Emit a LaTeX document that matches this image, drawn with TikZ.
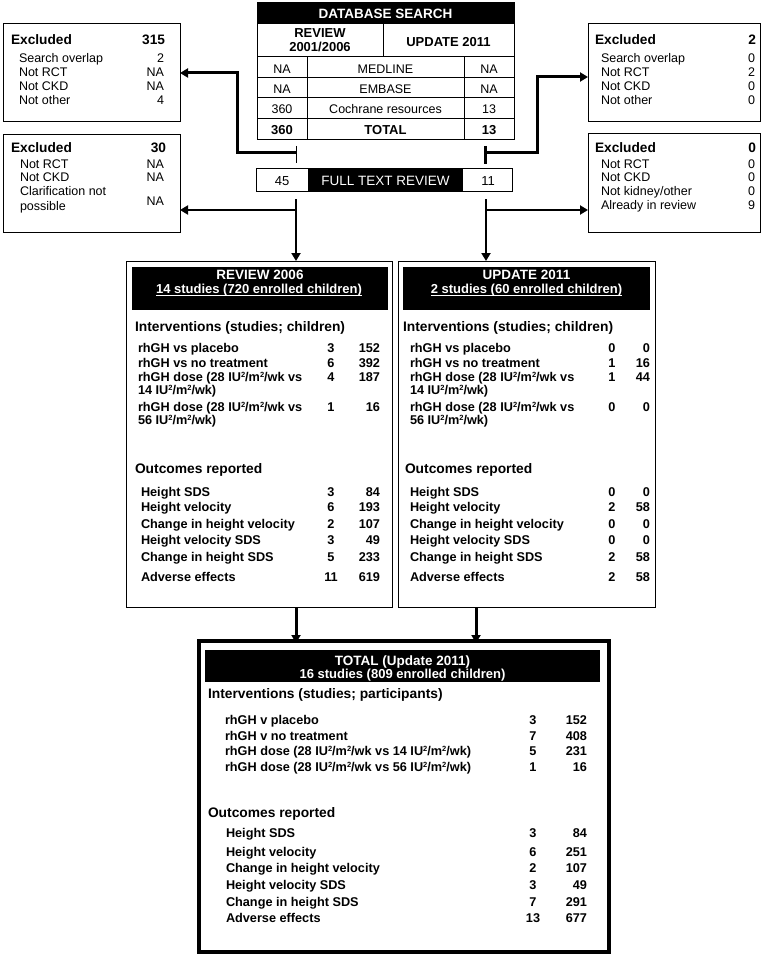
\documentclass[tikz,border=0pt]{standalone}
\usepackage{fontspec}
\setmainfont{Liberation Sans}
\usetikzlibrary{arrows.meta}
\newcommand\fex{\fontsize{13.7}{15}\selectfont\bfseries}
\newcommand\fsm{\fontsize{12.5}{14}\selectfont}
\newcommand\ftb{\fontsize{12.5}{14}\selectfont}
\newcommand\ftbb{\fontsize{13}{14}\selectfont\bfseries}
\newcommand\fhd{\fontsize{13.5}{15}\selectfont\bfseries}
\newcommand\fhdb{\fontsize{13}{15}\selectfont\bfseries}
\newcommand\fsec{\fontsize{13.8}{15}\selectfont\bfseries}
\newcommand\frow{\fontsize{12.7}{14}\selectfont\bfseries}
\newcommand\tsq{\raisebox{3.6pt}{\fontsize{7.5}{7.5}\selectfont 2}}
\tikzset{
  every node/.style={inner sep=0pt, outer sep=0pt},
  box/.style={draw, line width=1pt},
  blk/.style={fill=black},
  lbl/.style={anchor=base west},
  num/.style={anchor=base east},
  cnum/.style={anchor=base},
  cthree/.style={line width=3pt},
  ctwo/.style={line width=2pt},
  arr/.style={-{Triangle[length=8pt,width=9pt]}}
}
\begin{document}
\begin{tikzpicture}[x=1pt,y=-1pt]
\useasboundingbox[fill=white] (0,0) rectangle (771,960);

% ---------- Excluded boxes ----------
\node[box, minimum width=177pt, minimum height=98pt] (ex1) at (91.5,73) {};
\node[lbl] (ex1h) at (11,44.5) {\fex Excluded};
\node[num] (ex1hv) at (165,44.5) {\fex 315};
\foreach \n/\t/\v/\yy in {a/Search overlap/2/62.5, b/Not RCT/NA/76.5, c/Not CKD/NA/90.5, d/Not other/4/104.5}{
  \node[lbl] (ex1\n) at (19,\yy) {\fsm \t};
  \node[num] (ex1\n-v) at (164,\yy) {\fsm \v};
}

\node[box, minimum width=177pt, minimum height=97pt] (ex2) at (91.5,183.5) {};
\node[lbl] (ex2h) at (11,153) {\fex Excluded};
\node[num] (ex2hv) at (166,153) {\fex 30};
\foreach \n/\t/\v/\yy in {a/Not RCT/NA/168, b/Not CKD/NA/182}{
  \node[lbl] (ex2\n) at (20,\yy) {\fsm \t};
  \node[num] (ex2\n-v) at (164,\yy) {\fsm \v};
}
\node[lbl] (ex2c) at (20,196) {\fsm Clarification not};
\node[lbl] (ex2d) at (20,210) {\fsm possible};
\node[num] (ex2c-v) at (164,205) {\fsm NA};

\node[box, minimum width=172pt, minimum height=98pt] (ex3) at (674,73) {};
\node[lbl] (ex3h) at (595,44.5) {\fex Excluded};
\node[num] (ex3hv) at (756,44.5) {\fex 2};
\foreach \n/\t/\v/\yy in {a/Search overlap/0/62.5, b/Not RCT/2/76.5, c/Not CKD/0/90.5, d/Not other/0/104.5}{
  \node[lbl] (ex3\n) at (601,\yy) {\fsm \t};
  \node[num] (ex3\n-v) at (755,\yy) {\fsm \v};
}

\node[box, minimum width=172pt, minimum height=98pt] (ex4) at (674,183) {};
\node[lbl] (ex4h) at (595,153) {\fex Excluded};
\node[num] (ex4hv) at (756,153) {\fex 0};
\foreach \n/\t/\v/\yy in {a/Not RCT/0/168, b/Not CKD/0/181.5, c/Not kidney\slash other/0/195.5, d/Already in review/9/209}{
  \node[lbl] (ex4\n) at (601,\yy) {\fsm \t};
  \node[num] (ex4\n-v) at (755,\yy) {\fsm \v};
}

% ---------- Database search table ----------
\node[blk, minimum width=257pt, minimum height=21pt] (dbh) at (385.5,13.5) {};
\node[box, minimum width=257pt, minimum height=137pt] (db) at (385.5,71.5) {};
\node[cnum, text=white] (dbt) at (385.5,18.5) {\fhd DATABASE SEARCH};
\draw[line width=1pt] (257,24) -- (514,24);
\draw[line width=1pt] (257,57) -- (514,57);
\draw[line width=1pt] (257,78) -- (514,78);
\draw[line width=1pt] (257,98) -- (514,98);
\draw[line width=1pt] (257,119) -- (514,119);
\draw[line width=1pt] (383,24) -- (383,57);
\draw[line width=1pt] (307,57) -- (307,140);
\draw[line width=1pt] (464,57) -- (464,140);
\node[cnum] (dbr1) at (320,37.5) {\ftbb REVIEW};
\node[cnum] (dbr2) at (320,52) {\ftbb 2001/2006};
\node[cnum] (dbu) at (448.5,46.5) {\ftbb UPDATE 2011};
\foreach \n/\a/\t/\b/\yy in {m/NA/MEDLINE/NA/73.5, e/NA/EMBASE/NA/93.5, c/360/Cochrane resources/13/113.5}{
  \node[cnum] (db\n l) at (282,\yy) {\ftb \a};
  \node[cnum] (db\n m) at (385.5,\yy) {\ftb \t};
  \node[cnum] (db\n r) at (489,\yy) {\ftb \b};
}
\node[cnum] (dbtl) at (282,134.5) {\ftbb 360};
\node[cnum] (dbtm) at (385.5,134.5) {\ftbb TOTAL};
\node[cnum] (dbtr) at (489,134.5) {\ftbb 13};

% ---------- Full text review ----------
\node[box, minimum width=256pt, minimum height=22pt] (ft) at (384,180) {};
\node[blk, minimum width=155pt, minimum height=22pt] (ftb) at (385.5,180) {};
\node[cnum, text=white] (ftt) at (385.5,185.5) {\fontsize{13.5}{15}\selectfont FULL TEXT REVIEW};
\node[cnum] (ftl) at (282,185.5) {\fontsize{13}{15}\selectfont 45};
\node[cnum] (ftr) at (488,185.5) {\fontsize{13}{15}\selectfont 11};

% ---------- Review 2006 ----------
\node[box, minimum width=266pt, minimum height=346pt] (rev) at (259,434) {};
\node[blk, minimum width=256pt, minimum height=43pt] (revh) at (260,288.5) {};
\node[cnum, text=white] (revh1) at (260,279.5) {\fhd REVIEW 2006};
\node[cnum, text=white] (revh2) at (259,293) {\fhdb 14 studies (720 enrolled children)};
\draw[white, line width=1pt] ([yshift=-2pt]revh2.base west) -- ([yshift=-2pt]revh2.base east);
\node[lbl] (revi) at (135,331.5) {\fsec Interventions (studies; children)};
\node[lbl] (revi1) at (138,352) {\frow rhGH vs placebo};
\node[cnum] (revi1a) at (331,352) {\frow 3};
\node[num] (revi1b) at (380,352) {\frow 152};
\node[lbl] (revi2) at (138,367) {\frow rhGH vs no treatment};
\node[cnum] (revi2a) at (331,367) {\frow 6};
\node[num] (revi2b) at (380,367) {\frow 392};
\node[lbl] (revi3) at (138,381.5) {\frow rhGH dose (28 IU\tsq/m\tsq/wk vs};
\node[lbl] (revi3x) at (138,394.5) {\frow 14 IU\tsq/m\tsq/wk)};
\node[cnum] (revi3a) at (331,381.5) {\frow 4};
\node[num] (revi3b) at (380,381.5) {\frow 187};
\node[lbl] (revi4) at (138,411.5) {\frow rhGH dose (28 IU\tsq/m\tsq/wk vs};
\node[lbl] (revi4x) at (138,424.5) {\frow 56 IU\tsq/m\tsq/wk)};
\node[cnum] (revi4a) at (331,411.5) {\frow 1};
\node[num] (revi4b) at (380,411.5) {\frow 16};
\node[lbl] (revo) at (135,473) {\fsec Outcomes reported};
\foreach \n/\t/\a/\b/\yy in {1/Height SDS/3/84/496.5, 2/Height velocity/6/193/511.5, 3/Change in height velocity/2/107/528, 4/Height velocity SDS/3/49/544.5, 5/Change in height SDS/5/233/561, 6/Adverse effects/11/619/581.5}{
  \node[lbl] (revo\n) at (141,\yy) {\frow \t};
  \node[cnum] (revo\n a) at (331,\yy) {\frow \a};
  \node[num] (revo\n b) at (380,\yy) {\frow \b};
}

% ---------- Update 2011 ----------
\node[box, minimum width=257pt, minimum height=346pt] (upd) at (526.5,434) {};
\node[blk, minimum width=247pt, minimum height=43pt] (updh) at (526.5,288.5) {};
\node[cnum, text=white] (updh1) at (526.5,279.5) {\fhd UPDATE 2011};
\node[cnum, text=white] (updh2) at (526.5,293) {\fhdb 2 studies (60 enrolled children)};
\draw[white, line width=1pt] ([yshift=-2pt]updh2.base west) -- ([yshift=-2pt]updh2.base east);
\node[lbl] (updi) at (403,331.5) {\fsec Interventions (studies; children)};
\node[lbl] (updi1) at (410,352) {\frow rhGH vs placebo};
\node[cnum] (updi1a) at (612,352) {\frow 0};
\node[num] (updi1b) at (650,352) {\frow 0};
\node[lbl] (updi2) at (410,367) {\frow rhGH vs no treatment};
\node[cnum] (updi2a) at (612,367) {\frow 1};
\node[num] (updi2b) at (650,367) {\frow 16};
\node[lbl] (updi3) at (410,381.5) {\frow rhGH dose (28 IU\tsq/m\tsq/wk vs};
\node[lbl] (updi3x) at (410,394.5) {\frow 14 IU\tsq/m\tsq/wk)};
\node[cnum] (updi3a) at (612,381.5) {\frow 1};
\node[num] (updi3b) at (650,381.5) {\frow 44};
\node[lbl] (updi4) at (410,411.5) {\frow rhGH dose (28 IU\tsq/m\tsq/wk vs};
\node[lbl] (updi4x) at (410,424.5) {\frow 56 IU\tsq/m\tsq/wk)};
\node[cnum] (updi4a) at (612,411.5) {\frow 0};
\node[num] (updi4b) at (650,411.5) {\frow 0};
\node[lbl] (updo) at (405,473) {\fsec Outcomes reported};
\foreach \n/\t/\a/\b/\yy in {1/Height SDS/0/0/496.5, 2/Height velocity/2/58/511.5, 3/Change in height velocity/0/0/528, 4/Height velocity SDS/0/0/544.5, 5/Change in height SDS/2/58/561, 6/Adverse effects/2/58/581.5}{
  \node[lbl] (updo\n) at (410,\yy) {\frow \t};
  \node[cnum] (updo\n a) at (612,\yy) {\frow \a};
  \node[num] (updo\n b) at (650,\yy) {\frow \b};
}

% ---------- Total ----------
\node[draw, line width=4pt, minimum width=410pt, minimum height=311pt] (tot) at (404,796.5) {};
\node[blk, minimum width=395pt, minimum height=32pt] (toth) at (402.5,666) {};
\node[cnum, text=white] (toth1) at (402.5,665) {\fhd TOTAL (Update 2011)};
\node[cnum, text=white] (toth2) at (402.5,678.5) {\fhdb 16 studies (809 enrolled children)};
\node[lbl] (toti) at (208,698.5) {\fsec Interventions (studies; participants)};
\foreach \n/\t/\a/\b/\yy in {1/rhGH v placebo/3/152/724.5, 2/rhGH v no treatment/7/408/740}{
  \node[lbl] (toti\n) at (225,\yy) {\frow \t};
  \node[cnum] (toti\n a) at (533,\yy) {\frow \a};
  \node[num] (toti\n b) at (587,\yy) {\frow \b};
}
\node[lbl] (toti3) at (225,755.5) {\frow rhGH dose (28 IU\tsq/m\tsq/wk vs 14 IU\tsq/m\tsq/wk)};
\node[cnum] (toti3a) at (533,755.5) {\frow 5};
\node[num] (toti3b) at (587,755.5) {\frow 231};
\node[lbl] (toti4) at (225,771) {\frow rhGH dose (28 IU\tsq/m\tsq/wk vs 56 IU\tsq/m\tsq/wk)};
\node[cnum] (toti4a) at (533,771) {\frow 1};
\node[num] (toti4b) at (587,771) {\frow 16};
\node[lbl] (toto) at (208,817) {\fsec Outcomes reported};
\foreach \n/\t/\a/\b/\yy in {1/Height SDS/3/84/837.5, 2/Height velocity/6/251/856, 3/Change in height velocity/2/107/872.5, 4/Height velocity SDS/3/49/889, 5/Change in height SDS/7/291/906, 6/Adverse effects/13/677/922.5}{
  \node[lbl] (toto\n) at (226,\yy) {\frow \t};
  \node[cnum] (toto\n a) at (533,\yy) {\frow \a};
  \node[num] (toto\n b) at (587,\yy) {\frow \b};
}

% ---------- Connectors ----------
\coordinate (tkL) at (296,153);
\coordinate (tkR) at (485,153);
\coordinate (cL) at (237,153);
\coordinate (cR) at (537,153);
\coordinate (r77) at (537,77);
\draw[line width=1pt] (296,146) -- (296,163);
\draw[cthree] (485,146) -- (485,164);
\draw[cthree, arr] (tkL) -- (cL) -- (cL |- ex1.east) -- (ex1.east);
\draw[cthree, arr] (tkR) -- (cR) -- (r77) -- (ex3.west |- r77);

\coordinate (fL) at (296,199);
\coordinate (fR) at (486,199);
\coordinate (bL) at (296,210);
\coordinate (bR) at (486,210);
\draw[ctwo, arr] (fL) -- (fL |- rev.north);
\draw[ctwo, arr] (bL) -- (ex2.east |- bL);
\draw[ctwo, arr] (fR) -- (fR |- upd.north);
\draw[ctwo, arr] (bR) -- (ex4.west |- bR);

\coordinate (dL) at (296,607);
\coordinate (dR) at (476,607);
\draw[cthree, arr] (rev.south -| dL) -- ([yshift=-2pt]tot.north -| dL);
\draw[cthree, arr] (upd.south -| dR) -- ([yshift=-2pt]tot.north -| dR);
\end{tikzpicture}
\end{document}
